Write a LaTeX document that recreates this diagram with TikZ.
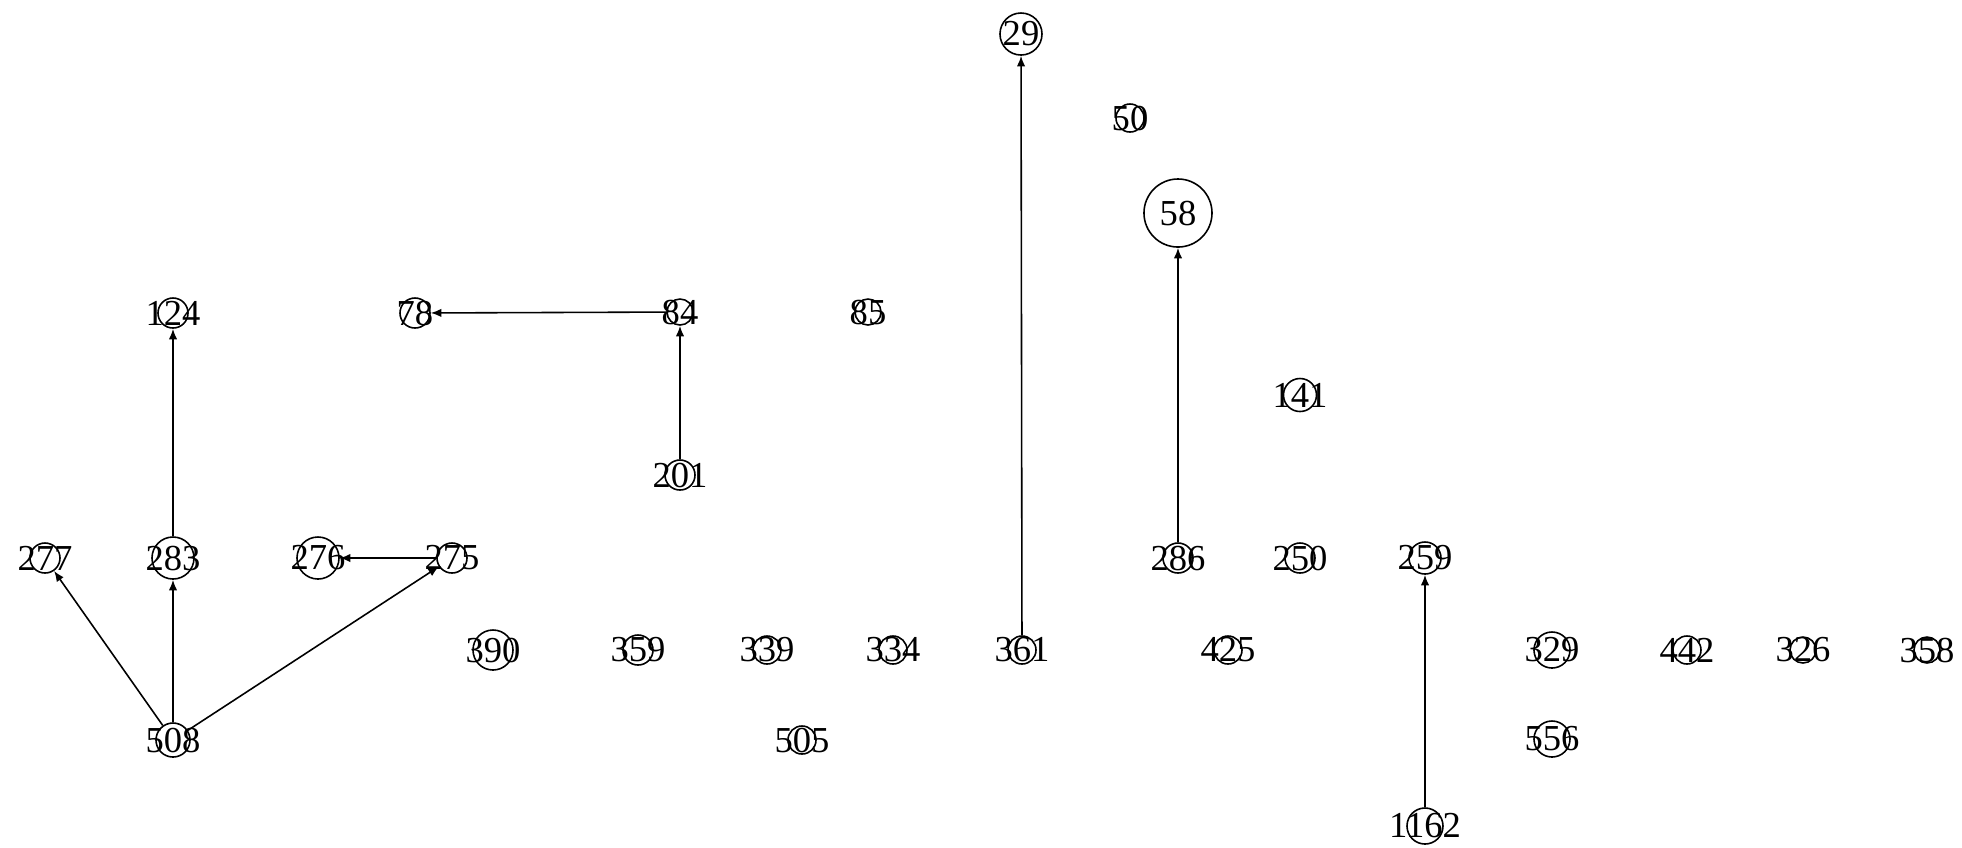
\documentclass[tikz,border=0pt]{standalone}
\usepackage{fontspec}
\setmainfont{Liberation Serif}
\usetikzlibrary{arrows.meta}
\newcommand{\vlab}[1]{\makebox[0pt]{#1}}

\begin{document}
\begin{tikzpicture}
				[x=0.01cm, y=-0.01cm, every node/.style={inner sep=0pt, font=\fontsize{10.4}{12}\selectfont},
				 vtx/.style={circle, minimum size=0.3cm, line width=0.45pt, draw=black},
				 link/.style={line width=0.45pt, color=black, -{Latex[length=3pt, width=2.4pt]}}]
				\useasboundingbox (0, 0) rectangle (1962, 847);
				\node (29) [vtx, minimum size=0.42cm] at (1021, 34)  {\vlab{29}};
				\node (50) [vtx, minimum size=0.28cm] at (1130, 118)  {\vlab{50}};
				\node (58) [vtx, minimum size=0.68cm] at (1178, 213)  {\vlab{58}};
				\node (124) [vtx] at (173, 313)  {\vlab{124}};
				\node (78) [vtx] at (415, 313)  {\vlab{78}};
				\node (84) [vtx, minimum size=0.26cm] at (680, 312)  {\vlab{84}};
				\node (85) [vtx, minimum size=0.26cm] at (868, 312)  {\vlab{85}};
				\node (141) [vtx, minimum size=0.33cm] at (1300, 395)  {\vlab{141}};
				\node (201) [vtx] at (680, 475)  {\vlab{201}};
				\node (277) [vtx] at (45, 558)  {\vlab{277}};
				\node (283) [vtx, minimum size=0.42cm] at (173, 558)  {\vlab{283}};
				\node (276) [vtx, minimum size=0.42cm] at (318, 558)  {\vlab{276}};
				\node (275) [vtx] at (452, 558)  {\vlab{275}};
				\node (286) [vtx] at (1178, 558)  {\vlab{286}};
				\node (250) [vtx] at (1300, 558)  {\vlab{250}};
				\node (259) [vtx, minimum size=0.32cm] at (1425, 558)  {\vlab{259}};
				\node (390) [vtx, minimum size=0.4cm] at (493, 650)  {\vlab{390}};
				\node (359) [vtx] at (638, 650)  {\vlab{359}};
				\node (339) [vtx, minimum size=0.28cm] at (767, 650)  {\vlab{339}};
				\node (334) [vtx, minimum size=0.28cm] at (893, 650)  {\vlab{334}};
				\node (361) [vtx, minimum size=0.28cm] at (1022, 650)  {\vlab{361}};
				\node (425) [vtx, minimum size=0.28cm] at (1228, 650)  {\vlab{425}};
				\node (329) [vtx, minimum size=0.36cm] at (1552, 650)  {\vlab{329}};
				\node (442) [vtx, minimum size=0.28cm] at (1687, 650)  {\vlab{442}};
				\node (326) [vtx, minimum size=0.26cm] at (1803, 650)  {\vlab{326}};
				\node (358) [vtx, minimum size=0.26cm] at (1927, 650)  {\vlab{358}};
				\node (508) [vtx, minimum size=0.34cm] at (173, 740)  {\vlab{508}};
				\node (505) [vtx, minimum size=0.28cm] at (802, 740)  {\vlab{505}};
				\node (556) [vtx, minimum size=0.36cm] at (1552, 739)  {\vlab{556}};
				\node (1162) [vtx, minimum size=0.36cm] at (1425, 826)  {\vlab{1162}};
				\draw [link] (508) to (277);
				\draw [link] (508) to (283);
				\draw [link] (508) to (275);
				\draw [link] (283) to (124);
				\draw [link] (275) to (276);
				\draw [link] (201) to (84);
				\draw [link] (84) to (78);
				\draw [link] (361) to (29);
				\draw [link] (286) to (58);
				\draw [link] (1162) to (259);
		\end{tikzpicture}
\end{document}
